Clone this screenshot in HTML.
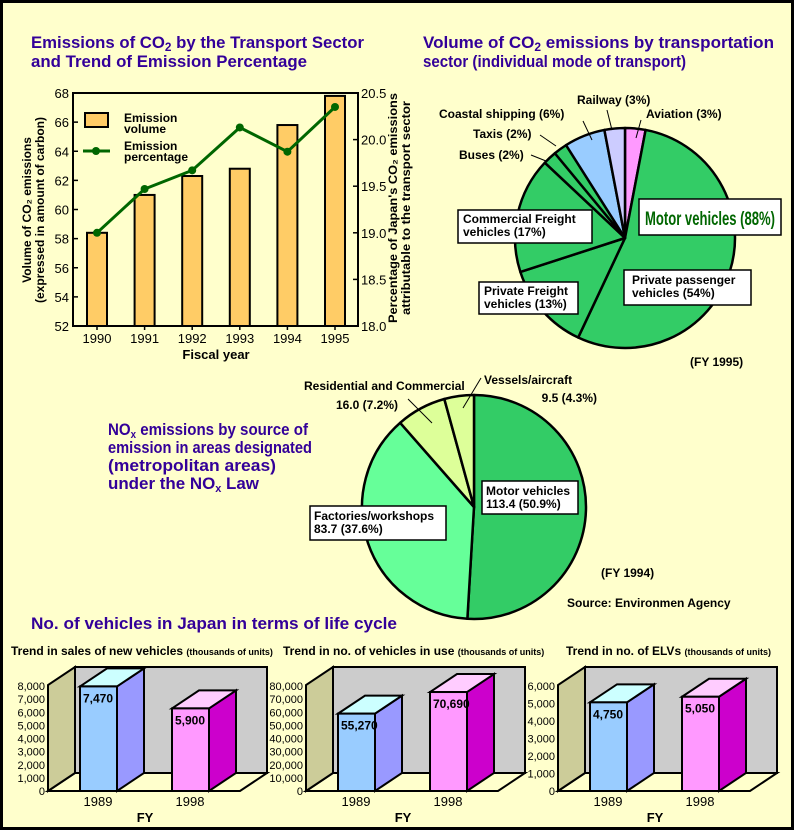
<!DOCTYPE html>
<html><head><meta charset="utf-8"><style>
html,body{margin:0;padding:0;background:#ffffcc;}
svg{display:block;font-family:"Liberation Sans",Arial,sans-serif;}
.t{fill:#330099;font-weight:bold;font-size:17px;}
.b{font-weight:bold;font-size:12px;fill:#000;}
.n{font-size:12px;fill:#000;}
</style></head><body>
<svg id="s" width="794" height="830" viewBox="0 0 794 830" xmlns="http://www.w3.org/2000/svg">
<rect x="1.5" y="1.5" width="791" height="827" fill="#ffffcc" stroke="#000" stroke-width="3"/>
<text class="t" x="31" y="48" textLength="333" lengthAdjust="spacingAndGlyphs">Emissions of CO<tspan font-size="12" dy="3">2</tspan><tspan dy="-3"> by the Transport Sector</tspan></text>
<text class="t" x="31" y="67" textLength="276" lengthAdjust="spacingAndGlyphs">and Trend of Emission Percentage</text>
<text class="t" x="423" y="48" textLength="351" lengthAdjust="spacingAndGlyphs">Volume of CO<tspan font-size="12" dy="3">2</tspan><tspan dy="-3"> emissions by transportation</tspan></text>
<text class="t" x="423" y="67" textLength="263" lengthAdjust="spacingAndGlyphs">sector (individual mode of transport)</text>
<g>
<text class="t" x="108" y="435" textLength="200" lengthAdjust="spacingAndGlyphs">NO<tspan font-size="11" dy="3">x</tspan><tspan dy="-3"> emissions by source of</tspan></text>
<text class="t" x="108" y="453" textLength="204" lengthAdjust="spacingAndGlyphs">emission in areas designated</text>
<text class="t" x="108" y="471" textLength="168" lengthAdjust="spacingAndGlyphs">(metropolitan areas)</text>
<text class="t" x="108" y="489" textLength="151" lengthAdjust="spacingAndGlyphs">under the NO<tspan font-size="11" dy="3">x</tspan><tspan dy="-3"> Law</tspan></text>
</g>
<text class="t" x="31" y="629" textLength="366" lengthAdjust="spacingAndGlyphs">No. of vehicles in Japan in terms of life cycle</text>
<g id="c1"></g>
<g id="p1"></g>
<g id="p2"></g>
<g id="b3"></g>
</svg>
<script>
const years = ["1990","1991","1992","1993","1994","1995"];
const volume = [58.4, 61.0, 62.3, 62.8, 65.8, 67.8];
const percent = [19.0, 19.47, 19.67, 20.13, 19.87, 20.35];
const leftTicks = [52,54,56,58,60,62,64,66,68];
const rightTicks = ["18.0","18.5","19.0","19.5","20.0","20.5"];

const pie1Labels = ["Aviation (3%)","Private passenger vehicles (54%)","Private Freight vehicles (13%)","Commercial Freight vehicles (17%)","Buses (2%)","Taxis (2%)","Coastal shipping (6%)","Railway (3%)"];
const pie1Values = [3,54,13,17,2,2,6,3];
const pie1Colors = ["#ff99ff","#33cc66","#33cc66","#33cc66","#33cc66","#33cc66","#99ccff","#ccccff"];

const pie2Labels = ["Motor vehicles","Factories/workshops","Residential and Commercial","Vessels/aircraft"];
const pie2Values = [113.4, 83.7, 16.0, 9.5];
const pie2Colors = ["#33cc66","#66ff99","#ddff99","#ddff99"];

const lcTitles = ["Trend in sales of new vehicles","Trend in no. of vehicles in use","Trend in no. of ELVs"];
const lcYears = ["1989","1998"];
const lcValues = [[7470,5900],[55270,70690],[4750,5050]];
const lcMax = [8000,80000,6000];
const lcTickStep = [1000,10000,1000];

const NS="http://www.w3.org/2000/svg";
function mk(parent,tag,attrs,text){const e=document.createElementNS(NS,tag);for(const k in attrs)e.setAttribute(k,attrs[k]);if(text!==undefined)e.textContent=text;parent.appendChild(e);return e;}

// ---- Chart 1 ----
const c1=document.getElementById('c1');
const X0=73,X1=358,Y0=326,Y1=93;
const yL=v=>Y0-(v-52)/(68-52)*(Y0-Y1);
const yR=v=>Y0-(v-18)/(20.5-18)*(Y0-Y1);
const xC=i=>97+i*47.6;
mk(c1,'rect',{x:X0,y:Y1,width:X1-X0,height:Y0-Y1,fill:'none',stroke:'#000','stroke-width':2});
leftTicks.forEach(t=>{
  const y=yL(t);
  const l=mk(c1,'line',{x1:X0,x2:X0+5,y1:y,y2:y,stroke:'#000','stroke-width':1.5});
  const tx=mk(c1,'text',{x:X0-4,y:y+5,'text-anchor':'end','font-size':13},String(t));
  
  
});
rightTicks.forEach(t=>{
  const y=yR(parseFloat(t));
  mk(c1,'line',{x1:X1-5,x2:X1,y1:y,y2:y,stroke:'#000','stroke-width':1.5});
  const tx=mk(c1,'text',{x:X1+3,y:y+5,'font-size':13},t);
  
  
});
years.forEach((yr,i)=>{
  const x=xC(i);
  const r=mk(c1,'rect',{x:x-10,y:yL(volume[i]),width:20,height:Y0-yL(volume[i]),fill:'#ffcc66',stroke:'#000','stroke-width':2});
  
  
  mk(c1,'line',{x1:x,x2:x,y1:Y0,y2:Y0+4,stroke:'#000','stroke-width':1.5});
  const tx=mk(c1,'text',{x:x,y:343,'text-anchor':'middle','font-size':13},yr);
  
  
});
const pts=percent.map((v,i)=>xC(i)+','+yR(v)).join(' ');
const pl=mk(c1,'polyline',{points:pts,fill:'none',stroke:'#006600','stroke-width':3});


percent.forEach((v,i)=>{
  const c=mk(c1,'circle',{cx:xC(i),cy:yR(v),r:4,fill:'#006600'});
  
  
});
let xt=mk(c1,'text',{x:216,y:359,'text-anchor':'middle','font-size':13,'font-weight':'bold'},'Fiscal year');


let lg=mk(c1,'g',{});


mk(lg,'rect',{x:85,y:113,width:23,height:14,fill:'#ffcc66',stroke:'#000','stroke-width':2});
mk(lg,'text',{x:124,y:122,'font-size':12,'font-weight':'bold'},'Emission');
mk(lg,'text',{x:124,y:133,'font-size':12,'font-weight':'bold'},'volume');
mk(lg,'line',{x1:83,x2:110,y1:151,y2:151,stroke:'#006600','stroke-width':3});
mk(lg,'circle',{cx:96,cy:151,r:4,fill:'#006600'});
mk(lg,'text',{x:124,y:150,'font-size':12,'font-weight':'bold'},'Emission');
mk(lg,'text',{x:124,y:161,'font-size':12,'font-weight':'bold'},'percentage');
let ly=mk(c1,'g',{transform:'translate(31,210) rotate(-90)'});


mk(ly,'text',{x:0,y:0,'text-anchor':'middle','font-size':12,'font-weight':'bold'},'Volume of CO\u2082 emissions');
mk(ly,'text',{x:0,y:13,'text-anchor':'middle','font-size':12,'font-weight':'bold'},'(expressed in amount of carbon)');
let ry=mk(c1,'g',{transform:'translate(397,208) rotate(-90)'});


mk(ry,'text',{x:0,y:0,'text-anchor':'middle','font-size':12,'font-weight':'bold','textLength':230,'lengthAdjust':'spacingAndGlyphs'},"Percentage of Japan's CO\u2082 emissions");
mk(ry,'text',{x:0,y:13,'text-anchor':'middle','font-size':12,'font-weight':'bold','textLength':214,'lengthAdjust':'spacingAndGlyphs'},'attributable to the transport sector');

// ---- Pies ----
function pie(g,cx,cy,r,vals,cols,names){
  const tot=vals.reduce((a,b)=>a+b,0);let a=-Math.PI/2;
  vals.forEach((v,i)=>{
    const a2=a+v/tot*2*Math.PI;
    const large=(a2-a)>Math.PI?1:0;
    const d=`M${cx},${cy} L${cx+r*Math.cos(a)},${cy+r*Math.sin(a)} A${r},${r} 0 ${large} 1 ${cx+r*Math.cos(a2)},${cy+r*Math.sin(a2)} Z`;
    const p=mk(g,'path',{d:d,fill:cols[i],stroke:'#000','stroke-width':2.5,'stroke-linejoin':'round'});
    
    
    a=a2;
  });
}
const p1=document.getElementById('p1');
pie(p1,625,238,110,pie1Values,pie1Colors,pie1Labels);
function lbl(g,x,y,lines,opts){
  const grp=mk(g,'g',{});
  
  
  if(opts&&opts.box) mk(grp,'rect',{x:opts.box[0],y:opts.box[1],width:opts.box[2],height:opts.box[3],fill:'#fff',stroke:'#000','stroke-width':1.5});
  lines.forEach((t,i)=>mk(grp,'text',{x:x,y:y+i*13,'font-size':12,'font-weight':'bold','text-anchor':(opts&&opts.anchor)||'start'},t));
  return grp;
}
function ln(g,x1,y1,x2,y2){mk(g,'line',{x1,y1,x2,y2,stroke:'#000','stroke-width':1});}
lbl(p1,577,104,['Railway (3%)']);
lbl(p1,646,118,['Aviation (3%)']);
lbl(p1,439,118,['Coastal shipping (6%)']);
lbl(p1,473,138,['Taxis (2%)']);
lbl(p1,459,159,['Buses (2%)']);
ln(p1,607,110,612,130);ln(p1,641,120,636,138);ln(p1,583,121,592,140);ln(p1,540,135,556,146);ln(p1,531,155,546,161);
lbl(p1,463,223,['Commercial Freight','vehicles (17%)'],{box:[458,210,134,33]});
lbl(p1,484,295,['Private Freight','vehicles (13%)'],{box:[479,282,99,32]});
lbl(p1,632,284,['Private passenger','vehicles (54%)'],{box:[624,270,127,35]});
let mv=mk(p1,'g',{});


mk(mv,'rect',{x:639,y:199,width:142,height:36,fill:'#fff',stroke:'#000','stroke-width':1.5});
mk(mv,'text',{x:645,y:225,'font-size':19,'font-weight':'bold',fill:'#006600','textLength':130,'lengthAdjust':'spacingAndGlyphs'},'Motor vehicles (88%)');
lbl(p1,690,366,['(FY 1995)']);

const p2=document.getElementById('p2');
pie(p2,474,507,112,pie2Values,pie2Colors,pie2Labels);
lbl(p2,304,390,['Residential and Commercial']);
lbl(p2,398,409,['16.0 (7.2%)'],{anchor:'end'});
lbl(p2,484,384,['Vessels/aircraft']);
lbl(p2,597,402,['9.5 (4.3%)'],{anchor:'end'});
ln(p2,408,399,432,423);ln(p2,481,378,463,408);
lbl(p2,486,495,['Motor vehicles','113.4 (50.9%)'],{box:[482,481,96,33]});
lbl(p2,314,520,['Factories/workshops','83.7 (37.6%)'],{box:[310,506,136,34]});
lbl(p2,601,577,['(FY 1994)']);
lbl(p2,567,607,['Source: Environmen Agency']);

// ---- Life-cycle 3D bars ----
const b3=document.getElementById('b3');
const walls=[48,306,558], titleX=[11,283,566];
const base=791, DX=27, DY=-18, W=37;
const frontCol=['#99ccff','#ff99ff'], sideCol=['#9999ff','#cc00cc'], topCol=['#ccffff','#ffccff'];
lcTitles.forEach((tt,k)=>{
  const g=mk(b3,'g',{});
  
  
  const w=walls[k];
  const ti=mk(g,'text',{x:titleX[k],y:655,'font-size':12,'font-weight':'bold'});
  mk(ti,'tspan',{},tt+' ');
  mk(ti,'tspan',{'font-size':9},'(thousands of units)');
  
  
  const bw=w+DX, top=base+DY-106;
  mk(g,'polygon',{points:`${w},${base} ${bw},${base+DY} ${bw+192},${base+DY} ${w+192},${base}`,fill:'#ffffcc',stroke:'#000','stroke-width':2});
  mk(g,'rect',{x:bw,y:top,width:192,height:106,fill:'#cccccc',stroke:'#000','stroke-width':2});
  mk(g,'polygon',{points:`${w},${base} ${w},${top-DY} ${bw},${top} ${bw},${base+DY}`,fill:'#cccc99',stroke:'#000','stroke-width':2});
  const sc=105/lcMax[k];
  for(let v=0;v<=lcMax[k];v+=lcTickStep[k]){
    const t=mk(g,'text',{x:w-3,y:base-v*sc+4,'text-anchor':'end','font-size':11},v.toLocaleString('en-US'));
    
    
  }
  lcValues[k].forEach((v,j)=>{
    const x=w+32+j*92, h=v*112/lcMax[k], y=base-h;
    const bar=mk(g,'g',{});
    
    
    mk(bar,'polygon',{points:`${x+W},${base} ${x+W},${y} ${x+W+DX},${y+DY} ${x+W+DX},${base+DY}`,fill:sideCol[j],stroke:'#000','stroke-width':2});
    mk(bar,'polygon',{points:`${x},${y} ${x+DX},${y+DY} ${x+W+DX},${y+DY} ${x+W},${y}`,fill:topCol[j],stroke:'#000','stroke-width':2});
    mk(bar,'rect',{x:x,y:y,width:W,height:h,fill:frontCol[j],stroke:'#000','stroke-width':2});
    mk(bar,'text',{x:x+3,y:y+16,'font-size':12,'font-weight':'bold'},v.toLocaleString('en-US'));
    const yl=mk(g,'text',{x:x+18,y:806,'text-anchor':'middle','font-size':13},lcYears[j]);
    
    
  });
  const fy=mk(g,'text',{x:w+97,y:822,'text-anchor':'middle','font-size':13,'font-weight':'bold'},'FY');
  
  
});
</script>
</body></html>
